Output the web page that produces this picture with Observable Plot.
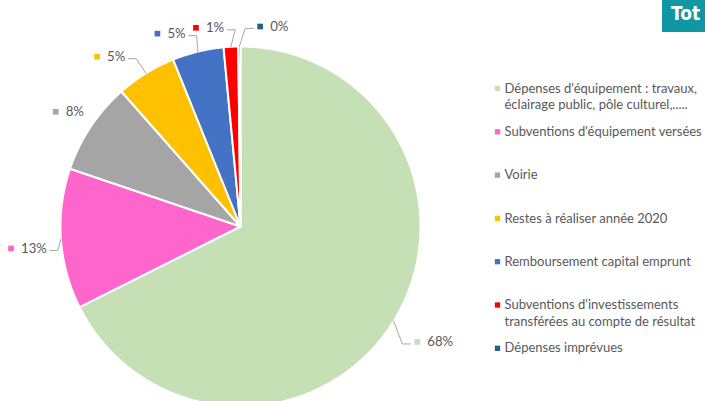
<!DOCTYPE html>
<html>
<head>
<meta charset="utf-8">
<script src="https://cdn.jsdelivr.net/npm/d3@7"></script>
<script src="https://cdn.jsdelivr.net/npm/@observablehq/plot@0.6"></script>
<style>
  html, body { margin: 0; padding: 0; background: #fff; overflow: hidden; }
  #wrap { position: relative; width: 705px; height: 401px; overflow: hidden; }
  #totbg { position: absolute; left: 662px; top: 0; width: 43px; height: 32px; background: #1196A3; }
  #tot { position: absolute; left: 671px; top: 0; white-space: nowrap; color: #fff;
         font: bold 19px "Liberation Sans Narrow", "DejaVu Sans Condensed", sans-serif;
         line-height: 27px; }
</style>
</head>
<body>
<div id="wrap"><div id="totbg"></div><span id="tot">Tot</span></div>
<script>
// ---- data ----
const categories = [
  "Dépenses d'équipement : travaux, éclairage public, pôle culturel,.....",
  "Subventions d'équipement versées",
  "Voirie",
  "Restes à réaliser année 2020",
  "Remboursement capital emprunt",
  "Subventions d'investissements transférées au compte de résultat",
  "Dépenses imprévues"
];
const legendLines = [
  ["Dépenses d'équipement : travaux,", "éclairage public, pôle culturel,....."],
  ["Subventions d'équipement versées"],
  ["Voirie"],
  ["Restes à réaliser année 2020"],
  ["Remboursement capital emprunt"],
  ["Subventions d'investissements", "transférées au compte de résultat"],
  ["Dépenses imprévues"]
];
const values = [67.6, 12.6, 8.3, 5.4, 4.6, 1.3, 0.2];
const percentLabels = ["68%", "13%", "8%", "5%", "5%", "1%", "0%"];
const colors = ["#C5E0B4", "#FF66CC", "#A5A5A5", "#FFC000", "#4472C4", "#FF0000", "#255E91"];

// ---- layout ----
const W = 705, H = 401;
const cx = 240, cy = 226, R = 180;
const labelR = 1.2 * R;
const labelNudge = [[-7, 2], [-14, 7], [-5, 5], [-30, 14], [-32, 17], [-33, 17], [21, 16]];
const fontFamily = "Lato, 'Open Sans', sans-serif";
const labelSize = 13.2, legendSize = 13;
const textColor = "#595959";

const rows = categories.map((name, i) => ({name, value: values[i], label: percentLabels[i]}));
const arcs = d3.pie().sort(null).value(d => d.value)(rows);
const pt = (a, r) => [cx + r * Math.sin(a), cy - r * Math.cos(a)];

// slice polygons
const slicePts = [];
arcs.forEach(a => {
  slicePts.push({name: a.data.name, x: cx, y: cy});
  const n = Math.max(2, Math.ceil((a.endAngle - a.startAngle) / 0.005));
  for (let k = 0; k <= n; k++) {
    const ang = a.startAngle + (a.endAngle - a.startAngle) * k / n;
    const [x, y] = pt(ang, R);
    slicePts.push({name: a.data.name, x, y});
  }
});

// text measure
const ctx = document.createElement("canvas").getContext("2d");
ctx.font = `${labelSize}px ${fontFamily}`;

// labels + leaders
const labelRows = [], leaderPts = [];
arcs.forEach((a, i) => {
  const mid = (a.startAngle + a.endAngle) / 2;
  const [dx0, dy0] = pt(mid, labelR);
  const sx = dx0 + labelNudge[i][0], sy = dy0 + labelNudge[i][1];
  const tx = sx + 10;
  const w = ctx.measureText(a.data.label).width;
  labelRows.push({name: a.data.name, label: a.data.label, sx, sy, tx});
  const [ex, ey] = pt(mid, R);
  let ax, bx;
  if (tx + w < ex) { ax = tx + w + 3; bx = ax + 8; }
  else { ax = sx - 7; bx = ax - 8; }
  const ay = sy + 2;
  if (Math.hypot(ax - ex, ay - ey) > 14) {
    leaderPts.push({k: i, x: ax, y: ay}, {k: i, x: bx, y: ay}, {k: i, x: ex, y: ey});
  }
});

// legend
const legendRows = [], legendSq = [];
legendLines.forEach((lines, i) => {
  const y0 = 88 + i * 43.3;
  legendSq.push({name: categories[i], x: 497, y: y0});
  lines.forEach((t, j) => legendRows.push({text: t, x: 504, y: y0 + j * 16.5}));
});

const chart = Plot.plot({
  width: W, height: H,
  margin: 0,
  x: {domain: [0, W], range: [0, W], axis: null},
  y: {domain: [0, H], range: [0, H], axis: null},
  color: {domain: categories, range: colors},
  style: {fontFamily, background: "#fff"},
  marks: [
    Plot.line(slicePts, {x: "x", y: "y", z: "name", fill: "name", stroke: "#fff", strokeWidth: 2, curve: "linear-closed"}),
    Plot.line(leaderPts, {x: "x", y: "y", z: "k", stroke: "#A6A6A6", strokeWidth: 1}),
    Plot.dot(labelRows, {x: "sx", y: "sy", fill: "name", symbol: "square", r: 3.2, stroke: null}),
    Plot.text(labelRows, {x: "tx", y: "sy", text: "label", textAnchor: "start", fill: textColor, fontSize: labelSize}),
    Plot.dot(legendSq, {x: "x", y: "y", fill: "name", symbol: "square", r: 3, stroke: null}),
    Plot.text(legendRows, {x: "x", y: "y", text: "text", textAnchor: "start", fill: textColor, fontSize: legendSize})
  ]
});
document.getElementById("wrap").prepend(chart);
</script>
</body>
</html>
